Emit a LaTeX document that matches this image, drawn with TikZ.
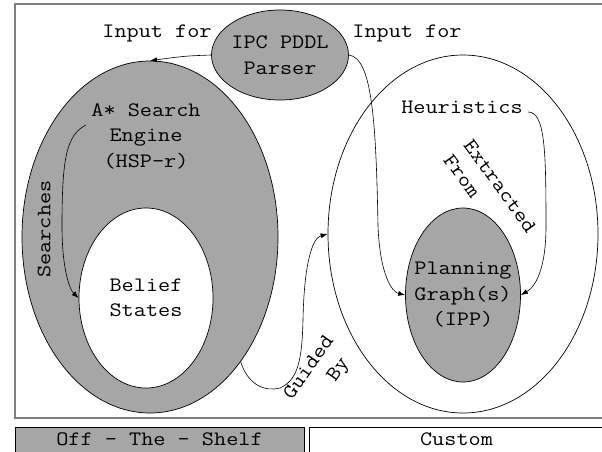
\documentclass[tikz,border=0pt]{standalone}
\usepackage{fontspec}
\setmonofont{Latin Modern Mono}[FakeStretch=1.15]
\usetikzlibrary{shapes.geometric, arrows.meta}
\definecolor{shade}{RGB}{166,166,166}
\definecolor{framegray}{RGB}{128,128,128}
\begin{document}
\begin{tikzpicture}[x=1pt,y=-1pt,
  ell/.style={ellipse, draw=black, line width=0.7pt, inner sep=0pt},
  txt/.style={font=\ttfamily\fontsize{20.5}{25.5}\selectfont, align=center, inner sep=0pt},
  arr/.style={line width=0.6pt, -{Latex[length=7pt,width=5pt]}},
  legendbox/.style={draw=black, line width=0.8pt, minimum height=25pt, inner sep=0pt,
                    font=\ttfamily\fontsize{20.5}{25.5}\selectfont}
]
\useasboundingbox (0,0) rectangle (602,451);
\clip (0,0) rectangle (602,451);
\fill[white] (0,0) rectangle (602,451);

% frame
\draw[framegray, line width=1.5pt] (15,4) rectangle (604,418);

% legend boxes
\node[legendbox, fill=shade, minimum width=289pt] (ots) at (159.5,439.5) {Off - The - Shelf};
\node[legendbox, fill=white, minimum width=295pt] (custom) at (456.5,439.5) {Custom};

% ellipses
\node[ell, fill=white, minimum width=270pt, minimum height=358pt] (right) at (463,234) {};
\node[ell, fill=shade, minimum width=115pt, minimum height=174pt] (planning) at (463,295) {};
\node[ell, fill=shade, minimum width=256pt, minimum height=352pt] (engine) at (150,237) {};
\node[ell, fill=white, minimum width=134pt, minimum height=180pt] (belief) at (146,298) {};
\node[ell, fill=shade, minimum width=137pt, minimum height=90pt] (parser) at (280,55) {};

% texts
\node[txt] (parsertxt) at (parser.center) {IPC PDDL\\Parser};
\node[txt] (planningtxt) at (planning.center) {Planning\\Graph(s)\\(IPP)};
\node[txt] (belieftxt) at (belief.center) {Belief\\States};
\node[txt] (enginetxt) at (146,136) {A* Search\\Engine\\(HSP-r)};
\node[txt] (heur) at (462,107) {Heuristics};
\node[txt] (inleft) at (157,33) {Input for};
\node[txt] (inright) at (407,33) {Input for};
\node[txt, rotate=90] (searches) at (44,229) {Searches};
\node[txt, rotate=55] (guided) at (308,367) {Guided};
\node[txt, rotate=55] (by) at (339,370) {By};
\node[txt, rotate=-54] (extracted) at (500,186) {Extracted};
\node[txt, rotate=-54] (from) at (462,176) {From};

% connectors
\coordinate (srchstart) at (86,125);
\coordinate (heurstart) at (528,112);
\draw[arr] (parser.west) .. controls (185,56) .. (engine.north);
\draw[arr] (parser.east) .. controls (372,58) and (376,120) .. (378,226)
           .. controls (380,275) and (392,292) .. (planning.west);
\draw[arr] (heurstart) .. controls (545,112) and (546,150) .. (546,226)
           .. controls (546,270) and (535,287) .. (planning.east);
\draw[arr] (srchstart) .. controls (66,135) and (62,160) .. (62,226)
           .. controls (62,270) and (70,290) .. (belief.west);
\draw[arr] (engine.-54) .. controls (248,385) and (265,392) .. (280,388)
           .. controls (298,380) and (302,360) .. (303,320)
           .. controls (304,265) and (312,238) .. (right.west);
\end{tikzpicture}
\end{document}
